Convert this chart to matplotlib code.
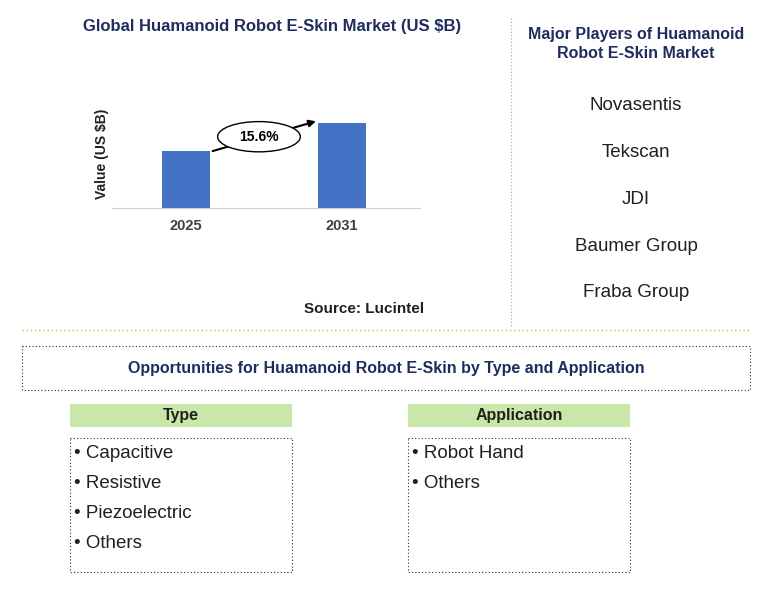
import matplotlib.pyplot as plt
from matplotlib.patches import Rectangle, Ellipse

plt.rcParams["font.family"] = "Liberation Sans"

years = ["2025", "2031"]
values = [0.53, 0.79]
cagr = "15.6%"
players = ["Novasentis", "Tekscan", "JDI", "Baumer Group", "Fraba Group"]
types = ["Capacitive", "Resistive", "Piezoelectric", "Others"]
applications = ["Robot Hand", "Others"]

W, H = 762, 589
fig = plt.figure(figsize=(W / 100, H / 100), dpi=100)
bg = fig.add_axes([0, 0, 1, 1])
bg.set_xlim(0, W)
bg.set_ylim(H, 0)
bg.axis("off")

navy = "#1f2d5c"
# bar chart axes (pixel box 112..420 x, 100..208 y)
ax = fig.add_axes([112 / W, 1 - 208 / H, 308 / W, 108 / H])
ax.bar([0, 1], values, width=0.31, color="#4472c4")
ax.set_xlim(-0.474, 1.5)
ax.set_ylim(0, 1)
ax.set_xticks([0, 1])
ax.set_xticklabels(years, fontsize=10.5, fontweight="bold", color="#404040")
ax.tick_params(length=0, pad=8)
ax.set_yticks([])
for s in ["top", "right", "left"]:
    ax.spines[s].set_visible(False)
ax.spines["bottom"].set_color("#d0d0d0")
ax.set_ylabel("Value (US $B)", fontsize=10, fontweight="bold", color="#202020", labelpad=2)
ax.patch.set_alpha(0)
ax.annotate("", xy=(0.85, values[1] + 0.02), xytext=(0.154, values[0] - 0.01),
            arrowprops=dict(arrowstyle="-|>", color="black", lw=1.5))
ax.add_patch(Ellipse((0.468, 0.66), 0.53, 0.28, facecolor="white", edgecolor="black", lw=1, zorder=3))
ax.text(0.468, 0.66, cagr, ha="center", va="center", fontsize=10, fontweight="bold", zorder=4)

bg.text(272, 27, "Global Huamanoid Robot E-Skin Market (US $B)", ha="center", va="center",
        fontsize=12, fontweight="bold", color=navy)
bg.text(364, 309, "Source: Lucintel", ha="center", va="center", fontsize=11, fontweight="bold", color="#202020")

bg.plot([511, 511], [18, 328], color="#a0a0a0", lw=0.8, ls=(0, (1, 2)))
bg.text(636, 44, "Major Players of Huamanoid\nRobot E-Skin Market", ha="center", va="center",
        fontsize=11.5, fontweight="bold", color=navy, linespacing=1.3)
for i, p in enumerate(players):
    bg.text(636, 106 + i * 46.7, p, ha="center", va="center", fontsize=13.5, color="#202020")

bg.plot([22, 750], [330, 330], color="#e6b422", lw=1, ls=(0, (1, 2)))

bg.add_patch(Rectangle((22, 346), 728, 44, fill=False, edgecolor=navy, lw=0.8, ls=(0, (1, 2))))
bg.text(386, 368, "Opportunities for Huamanoid Robot E-Skin by Type and Application", ha="center", va="center",
        fontsize=11.5, fontweight="bold", color=navy)

for x0, title, items in [(70, "Type", types), (408, "Application", applications)]:
    bg.add_patch(Rectangle((x0, 404), 222, 23, facecolor="#c9e7a8", edgecolor="none"))
    bg.text(x0 + 111, 415.5, title, ha="center", va="center", fontsize=11.5, fontweight="bold", color="#202020")
    bg.add_patch(Rectangle((x0, 438), 222, 134, fill=False, edgecolor=navy, lw=0.8, ls=(0, (1, 2))))
    for i, it in enumerate(items):
        bg.text(x0 + 4, 453 + i * 30, "\u2022 " + it, ha="left", va="center", fontsize=13.5, color="#202020")

fig.savefig("out.png", dpi=100)
